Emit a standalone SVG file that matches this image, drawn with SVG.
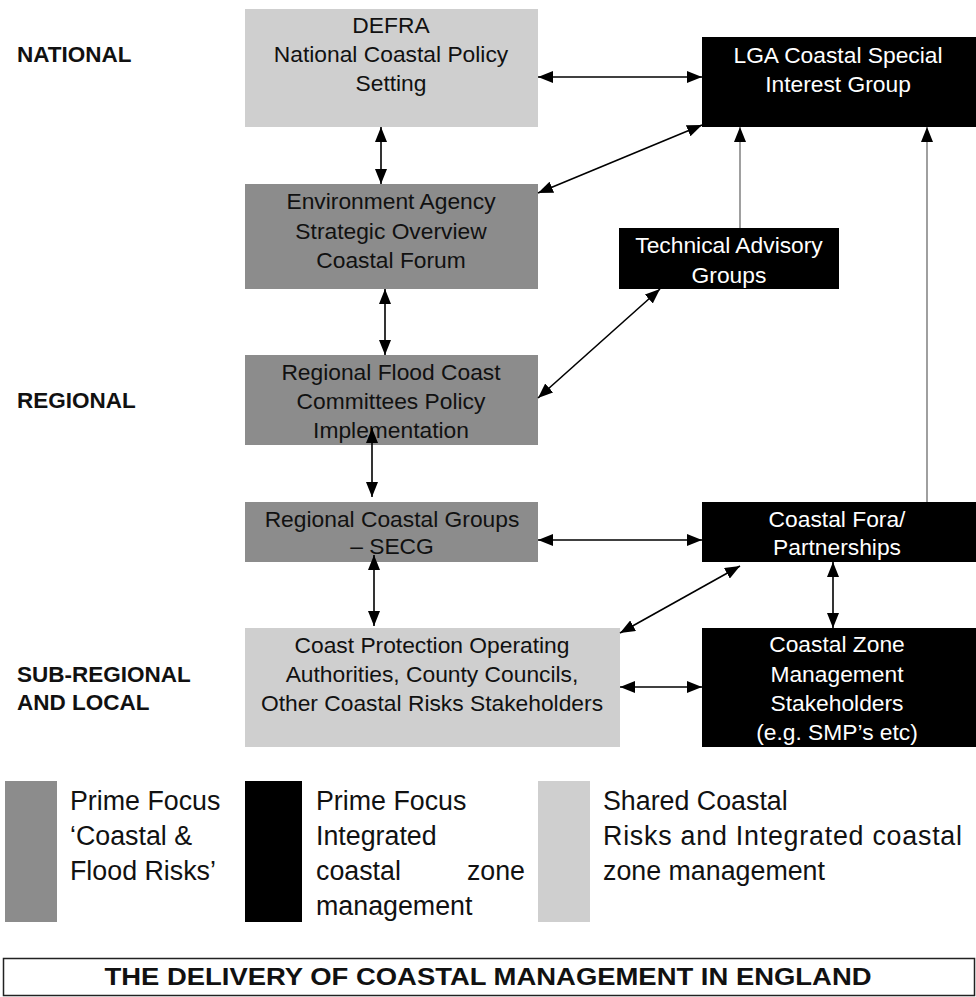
<svg xmlns="http://www.w3.org/2000/svg" width="976" height="997" viewBox="0 0 976 997">
<style>
text{font-family:"Liberation Sans",Arial,sans-serif}
.t{font-size:22.8px;text-anchor:middle;fill:#111}
.w{font-size:22.8px;text-anchor:middle;fill:#fff}
.lv{font-size:22.5px;font-weight:bold;fill:#111}
.lg{font-size:26.8px;fill:#111}
.light{fill:#cfcfcf}
.mid{fill:#8c8c8c}
.dark{fill:#000}
.c{stroke:#000;stroke-width:1.6;fill:none}
.g{stroke:#777;stroke-width:1.4;fill:none}
</style>
<defs>
<marker id="ah" markerUnits="userSpaceOnUse" markerWidth="15" markerHeight="12" refX="15" refY="6" orient="auto-start-reverse">
<path d="M0,0 L15,6 L0,12 z" fill="#000"/>
</marker>
</defs>
<rect width="976" height="997" fill="#fff"/>

<g id="level-labels">
<text class="lv" x="17" y="62">NATIONAL</text>
<text class="lv" x="17" y="408">REGIONAL</text>
<text class="lv" x="17" y="682">SUB-REGIONAL</text>
<text class="lv" x="17" y="710">AND LOCAL</text>
</g>

<g id="defra">
<rect class="light" x="245" y="9" width="293" height="118"/>
<text class="t" x="391" y="33">DEFRA</text>
<text class="t" x="391" y="62">National Coastal Policy</text>
<text class="t" x="391" y="91">Setting</text>
</g>
<g id="ea">
<rect class="mid" x="245" y="184" width="293" height="105"/>
<text class="t" x="391" y="209">Environment Agency</text>
<text class="t" x="391" y="239">Strategic Overview</text>
<text class="t" x="391" y="268">Coastal Forum</text>
</g>
<g id="rfc">
<rect class="mid" x="245" y="355" width="293" height="90"/>
<text class="t" x="391" y="380">Regional Flood Coast</text>
<text class="t" x="391" y="409">Committees Policy</text>
<text class="t" x="391" y="438">Implementation</text>
</g>
<g id="rcg">
<rect class="mid" x="245" y="502" width="293" height="60"/>
<text class="t" x="392" y="527">Regional Coastal Groups</text>
<text class="t" x="392" y="554">– SECG</text>
</g>
<g id="cp">
<rect class="light" x="245" y="628" width="375" height="119"/>
<text class="t" x="432" y="653">Coast Protection Operating</text>
<text class="t" x="432" y="682">Authorities, County Councils,</text>
<text class="t" x="432" y="711">Other Coastal Risks Stakeholders</text>
</g>
<g id="lga">
<rect class="dark" x="702" y="37" width="274" height="90"/>
<text class="w" x="838" y="63">LGA Coastal Special</text>
<text class="w" x="838" y="92">Interest Group</text>
</g>
<g id="tag">
<rect class="dark" x="619" y="228" width="220" height="61"/>
<text class="w" x="729" y="253">Technical Advisory</text>
<text class="w" x="729" y="283">Groups</text>
</g>
<g id="cf">
<rect class="dark" x="702" y="502" width="274" height="60"/>
<text class="w" x="837" y="527">Coastal Fora/</text>
<text class="w" x="837" y="555">Partnerships</text>
</g>
<g id="cz">
<rect class="dark" x="702" y="628" width="274" height="119"/>
<text class="w" x="837" y="652">Coastal Zone</text>
<text class="w" x="837" y="682">Management</text>
<text class="w" x="837" y="711">Stakeholders</text>
<text class="w" x="837" y="740">(e.g. SMP’s etc)</text>
</g>

<g id="connectors">
<path class="c" d="M538,77 L702,77" marker-start="url(#ah)" marker-end="url(#ah)"/>
<path class="c" d="M381,127 L381,184" marker-start="url(#ah)" marker-end="url(#ah)"/>
<path class="c" d="M538,193 L702,125" marker-start="url(#ah)" marker-end="url(#ah)"/>
<path class="g" d="M740,228 L740,127" marker-end="url(#ah)"/>
<path class="c" d="M385,289 L385,355" marker-start="url(#ah)" marker-end="url(#ah)"/>
<path class="c" d="M538,398 L660,289" marker-start="url(#ah)" marker-end="url(#ah)"/>
<path class="c" d="M372,428 L372,497" marker-start="url(#ah)" marker-end="url(#ah)"/>
<path class="c" d="M374,555 L374,626" marker-start="url(#ah)" marker-end="url(#ah)"/>
<path class="c" d="M538,540 L702,540" marker-start="url(#ah)" marker-end="url(#ah)"/>
<path class="c" d="M833,562 L833,628" marker-start="url(#ah)" marker-end="url(#ah)"/>
<path class="c" d="M620,687 L702,687" marker-start="url(#ah)" marker-end="url(#ah)"/>
<path class="c" d="M620,633 L740,566" marker-start="url(#ah)" marker-end="url(#ah)"/>
<path class="g" d="M927,502 L927,127" marker-end="url(#ah)"/>
</g>

<g id="legend">
<rect class="mid" x="5" y="781" width="52" height="141"/>
<text class="lg" x="70" y="810">Prime Focus</text>
<text class="lg" x="70" y="845">‘Coastal &amp;</text>
<text class="lg" x="70" y="880">Flood Risks’</text>
<rect class="dark" x="245" y="781" width="57" height="141"/>
<text class="lg" x="316" y="810">Prime Focus</text>
<text class="lg" x="316" y="845">Integrated</text>
<text class="lg" x="316" y="880">coastal</text>
<text class="lg" x="525" y="880" text-anchor="end">zone</text>
<text class="lg" x="316" y="915">management</text>
<rect class="light" x="538" y="781" width="52" height="141"/>
<text class="lg" x="603" y="810">Shared Coastal</text>
<text class="lg" x="603" y="845" textLength="359" lengthAdjust="spacing">Risks and Integrated coastal</text>
<text class="lg" x="603" y="880">zone management</text>
</g>

<g id="title">
<rect x="3.5" y="958.5" width="971" height="37" fill="none" stroke="#222" stroke-width="1.5"/>
<text x="488" y="985" text-anchor="middle" font-size="23" font-weight="bold" fill="#111" textLength="767" lengthAdjust="spacingAndGlyphs">THE DELIVERY OF COASTAL MANAGEMENT IN ENGLAND</text>
</g>
</svg>
